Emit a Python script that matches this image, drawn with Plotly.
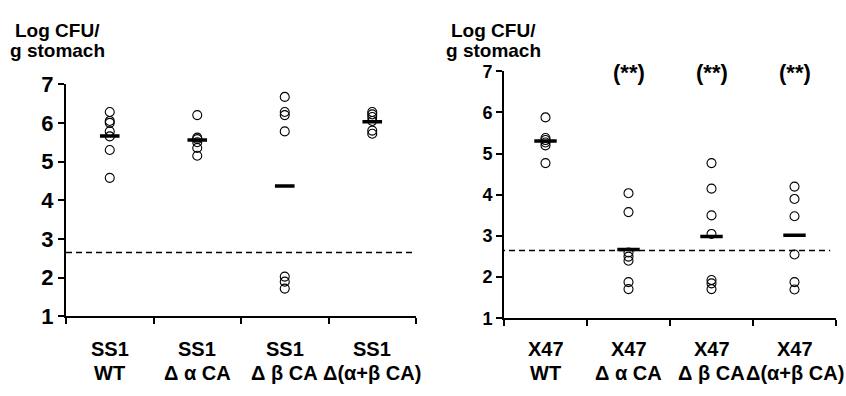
import plotly.graph_objects as go

W, H = 846, 396

# ---------------- data ----------------
left_strain = ["SS1", "SS1", "SS1", "SS1"]
right_strain = ["X47", "X47", "X47", "X47"]
genotypes = ["WT", "Δ α CA", "Δ β CA", "Δ(α+β CA)"]

ss1_wt = [6.28, 6.05, 6.0, 5.78, 5.65, 5.3, 4.58]
ss1_da = [6.2, 5.62, 5.58, 5.5, 5.35, 5.15]
ss1_db = [6.67, 6.28, 6.2, 5.78, 2.03, 1.9, 1.72]
ss1_dab = [6.28, 6.22, 6.15, 6.05, 5.8, 5.72]
ss1_means = [5.66, 5.56, 4.37, 6.03]

x47_wt = [5.88, 5.38, 5.33, 5.27, 5.2, 4.77]
x47_da = [4.04, 3.58, 2.6, 2.5, 2.4, 1.88, 1.71]
x47_db = [4.77, 4.15, 3.5, 3.05, 1.93, 1.85, 1.71]
x47_dab = [4.2, 3.9, 3.48, 2.55, 1.88, 1.7]
x47_means = [5.31, 2.67, 2.99, 3.02]

significance = ["", "(**)", "(**)", "(**)"]
detection_limit = [2.65]
y_ticks = [1, 2, 3, 4, 5, 6, 7]
y_title = ["Log CFU/", "g stomach"]

FONT = "Liberation Sans, Arial, sans-serif"

fig = go.Figure()


def add_panel(groups, means, xa, ya, bar_size):
    for i, vals in enumerate(groups):
        fig.add_trace(go.Scatter(
            x=[i + 1] * len(vals), y=vals, mode="markers", xaxis=xa, yaxis=ya,
            marker=dict(symbol="circle-open", size=9, color="black",
                        line=dict(width=1.1, color="black")),
            showlegend=False, hoverinfo="y"))
    fig.add_trace(go.Scatter(
        x=list(range(1, len(means) + 1)), y=means, mode="markers", xaxis=xa, yaxis=ya,
        marker=dict(symbol="line-ew", size=bar_size, color="black",
                    line=dict(width=3.5, color="black")),
        showlegend=False, hoverinfo="y"))


add_panel([ss1_wt, ss1_da, ss1_db, ss1_dab], ss1_means, "x", "y", 14)
add_panel([x47_wt, x47_da, x47_db, x47_dab], x47_means, "x2", "y2", 16)

# detection limit lines
fig.add_shape(type="line", xref="x", yref="y", x0=0.5, x1=4.47,
              y0=detection_limit[0], y1=detection_limit[0],
              line=dict(color="black", width=1.5, dash="6px,4px"))
fig.add_shape(type="line", xref="x2", yref="y2", x0=0.44, x1=4.43,
              y0=detection_limit[0], y1=detection_limit[0],
              line=dict(color="black", width=1.5, dash="6px,4px"))


def px_y(p):
    return (H - p) / H


def px_x(p):
    return p / W


common_x = dict(range=[0.5, 4.5], showline=True, linecolor="black", linewidth=2,
                ticks="outside", ticklen=6, tickwidth=2, tickcolor="black",
                tickvals=[0.5, 1.5, 2.5, 3.5, 4.5], showticklabels=False,
                showgrid=False, zeroline=False, fixedrange=True)
common_y = dict(range=[1, 7], showline=True, linecolor="black", linewidth=2,
                ticks="outside", ticklen=6, tickwidth=2, tickcolor="black",
                tickvals=y_ticks, showgrid=False, zeroline=False,
                tickfont=dict(family=FONT, size=22, color="black", weight="bold"))

fig.update_layout(
    width=W, height=H, margin=dict(l=0, r=0, t=0, b=0),
    paper_bgcolor="white", plot_bgcolor="white",
    xaxis=dict(common_x, domain=[px_x(66), px_x(416)], anchor="y"),
    yaxis=dict(common_y, domain=[px_y(325), px_y(77)], anchor="x"),
    xaxis2=dict(common_x, domain=[px_x(504), px_x(836)], anchor="y2"),
    yaxis2=dict(common_y, domain=[px_y(327), px_y(63.3)], anchor="x2",
                tickfont=dict(family=FONT, size=18, color="black", weight="bold")),
)

ann = []
for xa, strains in (("x", left_strain), ("x2", right_strain)):
    for i, (s, g) in enumerate(zip(strains, genotypes)):
        for yy, t in ((360, s), (385, g)):
            ann.append(dict(x=i + 1, xref=xa, y=px_y(yy), yref="paper", yanchor="middle",
                            text="<b>" + t + "</b>", showarrow=False,
                            font=dict(family=FONT, size=20, color="black")))
for i, s in enumerate(significance):
    if s:
        ann.append(dict(x=i + 1, xref="x2", y=6.97, yref="y2", yanchor="middle",
                        text="<b>" + s + "</b>", showarrow=False,
                        font=dict(family=FONT, size=22, color="black")))
for cx in (57, 493):
    for j, t in enumerate(y_title):
        ann.append(dict(x=px_x(cx), xref="paper", y=px_y(20 + 21 * j), yref="paper",
                        yanchor="middle", xanchor="center",
                        text="<b>" + t + "</b>", showarrow=False,
                        font=dict(family=FONT, size=19, color="black")))
fig.update_layout(annotations=ann)

fig.write_html("out.html")
